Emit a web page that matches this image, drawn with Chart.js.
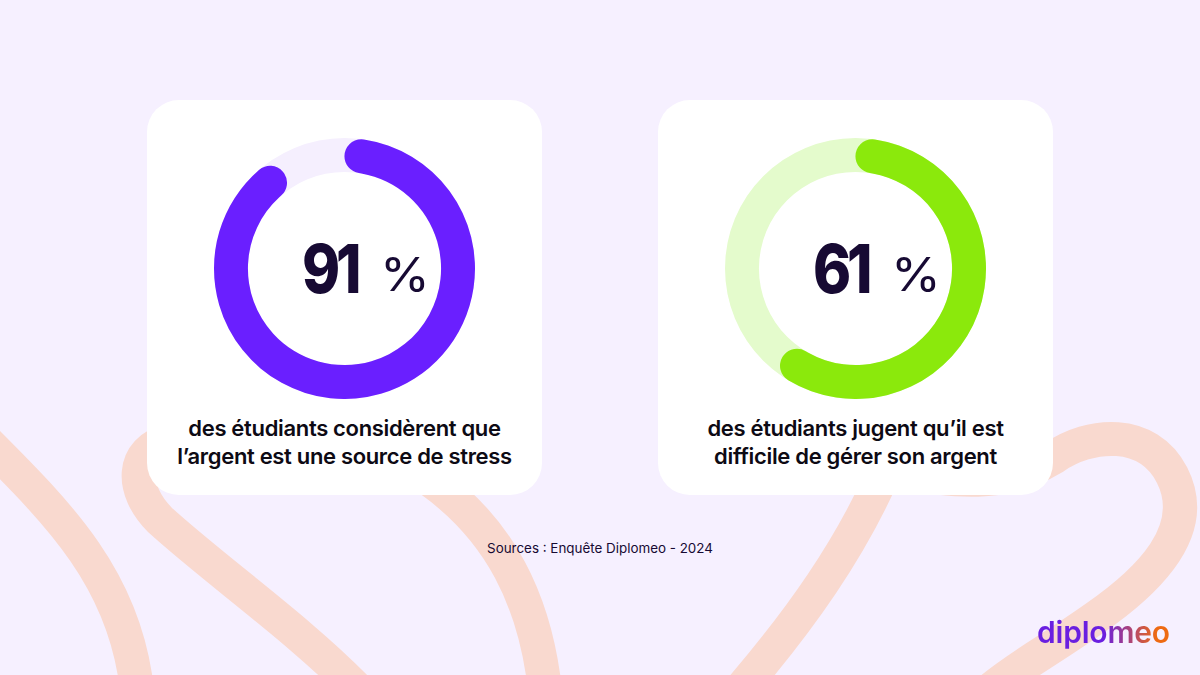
<!DOCTYPE html>
<html lang="fr">
<head>
<meta charset="utf-8">
<title>Diplomeo - argent et stress</title>
<script src="https://cdn.jsdelivr.net/npm/chart.js@4/dist/chart.umd.min.js"></script>
<style>
  html, body { margin: 0; padding: 0; }
  body { width: 1200px; height: 675px; background: #f6f0ff; position: relative; overflow: hidden; font-family: Inter, sans-serif; color: #170a33; }
  #bands { position: absolute; left: 0; top: 0; }
  .card { position: absolute; top: 100px; width: 395px; height: 395px; background: #fff; border-radius: 32px; }
  .card canvas { position: absolute; left: 67px; top: 38px; }
  .value { position: absolute; top: 128px; left: 0; width: 395px; height: 80px; }
  .num { position: absolute; left: 155px; top: 0; font-size: 68px; line-height: 80px; font-weight: 800; letter-spacing: -5px; transform: scaleX(.85); transform-origin: left center; }
  .pct { position: absolute; left: 233px; top: 6px; font-size: 47px; line-height: 80px; font-weight: 400; transform: scaleX(1.08); transform-origin: left center; }
  .caption { position: absolute; left: 0; width: 395px; top: 314px; text-align: center; font-size: 22px; line-height: 28px; font-weight: 600; letter-spacing: -.33px; color: #0d0a14; }
  #source { position: absolute; left: 0; width: 1200px; top: 540px; text-align: center; font-size: 13.4px; line-height: 16px; }
  #logo { position: absolute; left: 1037px; top: 614px; font-size: 30px; line-height: 36px; font-weight: 600; letter-spacing: -.2px;
    background: linear-gradient(90deg, #6a1fe0 0%, #6a1fe0 50%, #ee6a12 90%); -webkit-background-clip: text; background-clip: text; color: transparent; }
</style>
</head>
<body>
<svg id="bands" width="1200" height="675" fill="none" stroke="#f9d9cf" stroke-width="34">
  <path d="M-15,440 C60,515 125,580 137,690"/>
  <path d="M170,440 C130,450 130,490 160,520 C215,570 300,630 358,690"/>
  <path d="M430,480 C500,530 535,600 545,690"/>
  <path d="M740,690 C800,620 850,550 885,470 C950,480 1000,490 1053,458 C1090,432 1148,428 1172,475 C1200,530 1150,580 1095,618 C1050,650 1020,665 990,690"/>
</svg>

<div class="card" style="left:147px"><canvas id="chart0" width="261" height="261"></canvas><div class="value"><span class="num"></span><span class="pct"></span></div><div class="caption"></div></div>
<div class="card" style="left:658px"><canvas id="chart1" width="261" height="261"></canvas><div class="value"><span class="num"></span><span class="pct"></span></div><div class="caption"></div></div>
<div id="source"></div>
<div id="logo"></div>

<script>
const categories = ['Oui', 'Non'];
const stressValues = [91, 9];
const difficultyValues = [61, 39];
const captions = [
  ['des étudiants considèrent que', 'l’argent est une source de stress'],
  ['des étudiants jugent qu’il est', 'difficile de gérer son argent']
];
const sourceText = 'Sources : Enquête Diplomeo - 2024';
const logoText = 'diplomeo';

// track ring goes under the rounded ends of the arc
const trackRing = {
  id: 'trackRing',
  beforeDatasetsDraw(chart, args, opts) {
    const arc = chart.getDatasetMeta(0).data[0];
    const ctx = chart.ctx;
    ctx.save();
    ctx.beginPath();
    ctx.arc(arc.x, arc.y, arc.outerRadius, 0, Math.PI * 2);
    ctx.arc(arc.x, arc.y, arc.innerRadius, Math.PI * 2, 0, true);
    ctx.closePath();
    ctx.fillStyle = opts.color;
    ctx.fill();
    ctx.restore();
  }
};

const drawRing = (id, values, color, track) => {
  new Chart(document.getElementById(id), {
    type: 'doughnut',
    data: {
      labels: categories,
      datasets: [{
        data: values,
        backgroundColor: [color, 'rgba(0,0,0,0)'],
        borderWidth: 0,
        borderRadius: [17, 0]
      }]
    },
    options: {
      responsive: false,
      animation: false,
      cutout: '74%',
      layout: { padding: 0 },
      plugins: {
        legend: { display: false },
        tooltip: { enabled: false },
        trackRing: { color: track }
      }
    },
    plugins: [trackRing]
  });
};

drawRing('chart0', stressValues, '#6a1fff', '#f5effe');
drawRing('chart1', difficultyValues, '#8be90c', '#e4fbcc');

document.querySelectorAll('.card').forEach((card, i) => {
  card.querySelector('.num').textContent = [stressValues, difficultyValues][i][0];
  card.querySelector('.pct').textContent = '%';
  card.querySelector('.caption').innerHTML = captions[i].join('<br>');
});
document.getElementById('source').textContent = sourceText;
document.getElementById('logo').textContent = logoText;
</script>
</body>
</html>
